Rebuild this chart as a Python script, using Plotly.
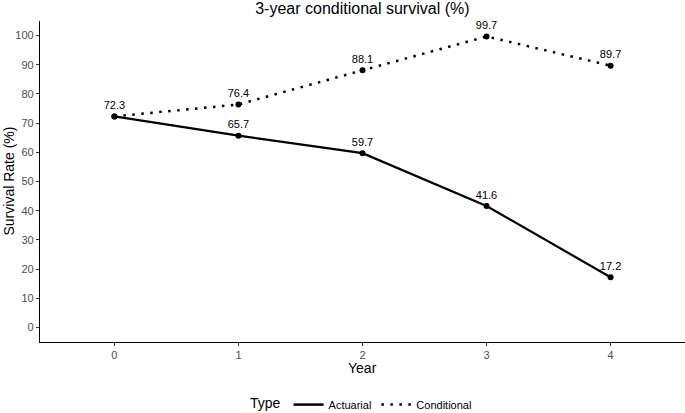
import plotly.graph_objects as go

years = [0, 1, 2, 3, 4]
actuarial = [72.3, 65.7, 59.7, 41.6, 17.2]
conditional = [72.3, 76.4, 88.1, 99.7, 89.7]
y_ticks = [0, 10, 20, 30, 40, 50, 60, 70, 80, 90, 100]

FONT = "Liberation Sans, Arial, sans-serif"
DOT = "2.5px,6.5px"

act_labels = [f"{v:.1f}" for v in actuarial]
con_labels = ["" if c == a else f"{c:.1f}" for c, a in zip(conditional, actuarial)]

fig = go.Figure()
fig.add_trace(go.Scatter(
    x=years, y=actuarial, name="Actuarial", mode="lines+markers+text",
    line=dict(color="black", width=2.2, dash="solid"),
    marker=dict(color="black", size=6),
    text=act_labels, textposition="top center", cliponaxis=False,
    textfont=dict(family=FONT, size=11, color="black"), showlegend=False,
))
fig.add_trace(go.Scatter(
    x=years, y=conditional, name="Conditional", mode="lines+markers+text",
    line=dict(color="black", width=2.5, dash=DOT),
    marker=dict(color="black", size=6),
    text=con_labels, textposition="top center", cliponaxis=False,
    textfont=dict(family=FONT, size=11, color="black"), showlegend=False,
))
# legend keys (lines only, as in the reference)
fig.add_trace(go.Scatter(x=[None], y=[None], name="Actuarial", mode="lines",
                         line=dict(color="black", width=2.5, dash="solid")))
fig.add_trace(go.Scatter(x=[None], y=[None], name="Conditional", mode="lines",
                         line=dict(color="black", width=2.5, dash=DOT)))

axis_common = dict(showgrid=False, zeroline=False, showline=True, linecolor="black",
                   linewidth=1.2, ticks="outside", ticklen=3, tickcolor="#333333",
                   tickfont=dict(family=FONT, size=11, color="#4d4d4d"), automargin=False)

fig.update_layout(
    width=685, height=413,
    margin=dict(l=40, r=0, t=21, b=71, autoexpand=False),
    paper_bgcolor="white", plot_bgcolor="white",
    font=dict(family=FONT, color="black"),
    title=dict(text="3-year conditional survival (%)", x=0.529, xanchor="center",
               y=1 - 8 / 413, yanchor="middle", yref="container",
               font=dict(family=FONT, size=16, color="black")),
    xaxis=dict(range=[-0.6, 4.6], tickvals=years, **axis_common),
    yaxis=dict(range=[-5, 105], tickvals=y_ticks, **axis_common),
    legend=dict(orientation="h", x=0.5, xanchor="center", y=-0.195, yanchor="middle",
                title=dict(text="Type", font=dict(family=FONT, size=14, color="black")),
                font=dict(family=FONT, size=11, color="black")),
    annotations=[
        dict(text="Year", xref="paper", yref="paper", x=0.5, y=-26 / 321, yanchor="middle",
             showarrow=False, font=dict(family=FONT, size=14, color="black")),
        dict(text="Survival Rate (%)", xref="paper", yref="paper", x=-32 / 645, xanchor="center",
             y=0.5, yanchor="middle", textangle=-90,
             showarrow=False, font=dict(family=FONT, size=14, color="black")),
    ],
)

fig.write_html("out.html", config={"displayModeBar": False},
               post_script="document.body.style.margin='0';")
